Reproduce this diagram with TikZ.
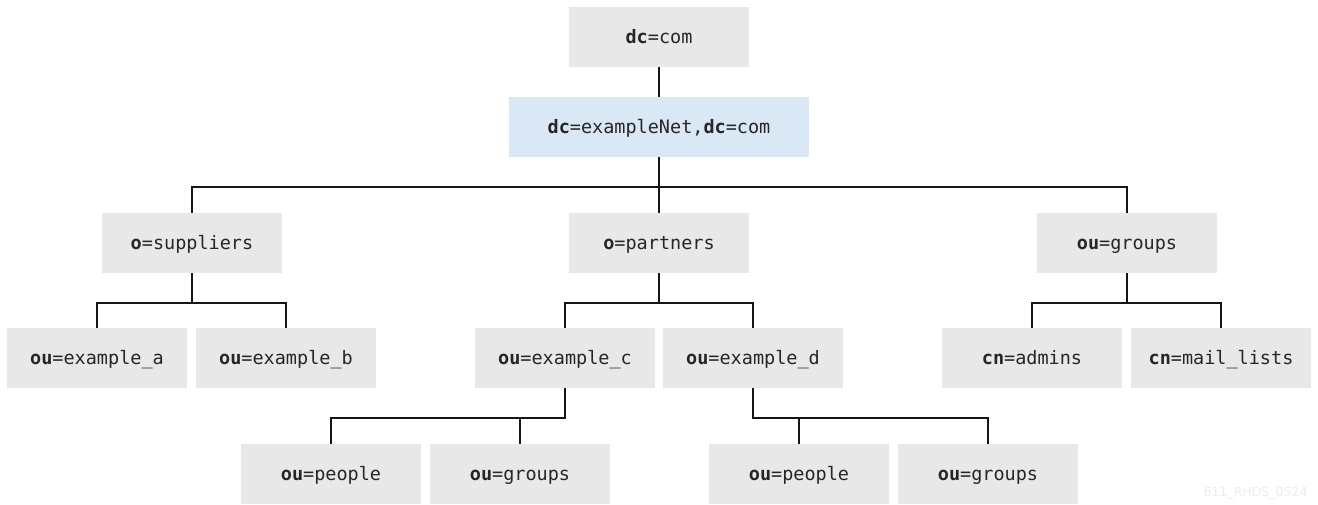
\documentclass[tikz,border=0pt]{standalone}
\usepackage{fontspec}
\setmonofont{DejaVu Sans Mono}
\newfontfamily\wmfont{DejaVu Sans}
\definecolor{boxgray}{RGB}{232,232,232}
\definecolor{boxblue}{RGB}{218,231,245}
\definecolor{linecol}{RGB}{21,21,21}
\definecolor{wmgray}{RGB}{236,236,236}
\begin{document}
\begin{tikzpicture}[x=1pt,y=-1pt,
  entry/.style={fill=boxgray, draw=none, minimum width=180pt, minimum height=60pt, inner sep=0pt,
    text height=14pt, text depth=2pt,
    font=\fontsize{18.5}{21}\selectfont\ttfamily, text=black!85},
  root/.style={entry, fill=boxblue, minimum width=300pt},
  conn/.style={draw=linecol, line width=1.8pt}]
\useasboundingbox (0,0) rectangle (1318,504);
% nodes
\node[entry] (com) at (659,37) {\textbf{dc}=com};
\node[entry, root] (net) at (659,127) {\textbf{dc}=exampleNet,\textbf{dc}=com};
\node[entry] (sup) at (192,243) {\textbf{o}=suppliers};
\node[entry] (par) at (659,243) {\textbf{o}=partners};
\node[entry] (grp) at (1127,243) {\textbf{ou}=groups};
\node[entry] (exa) at (97,358) {\textbf{ou}=example\_a};
\node[entry] (exb) at (286,358) {\textbf{ou}=example\_b};
\node[entry] (exc) at (565,358) {\textbf{ou}=example\_c};
\node[entry] (exd) at (753,358) {\textbf{ou}=example\_d};
\node[entry] (adm) at (1032,358) {\textbf{cn}=admins};
\node[entry] (mail) at (1221,358) {\textbf{cn}=mail\_lists};
\node[entry] (cpeo) at (331,474) {\textbf{ou}=people};
\node[entry] (cgrp) at (520,474) {\textbf{ou}=groups};
\node[entry] (dpeo) at (799,474) {\textbf{ou}=people};
\node[entry] (dgrp) at (988,474) {\textbf{ou}=groups};
\node[font=\wmfont\fontsize{12.5}{14}\selectfont, text=wmgray, anchor=east] (wm) at (1311,493) {611\_RHDS\_0524};
% connectors
\draw[conn] (com.south) -- (net.north);
\foreach \c in {sup,par,grp}{\draw[conn] (net.south) -- ++(0,30) -| (\c.north);}
\foreach \c in {exa,exb}{\draw[conn] (sup.south) -- ++(0,30) -| (\c.north);}
\foreach \c in {exc,exd}{\draw[conn] (par.south) -- ++(0,30) -| (\c.north);}
\foreach \c in {adm,mail}{\draw[conn] (grp.south) -- ++(0,30) -| (\c.north);}
\foreach \c in {cpeo,cgrp}{\draw[conn] (exc.south) -- ++(0,30) -| (\c.north);}
\foreach \c in {dpeo,dgrp}{\draw[conn] (exd.south) -- ++(0,30) -| (\c.north);}
\end{tikzpicture}
\end{document}
